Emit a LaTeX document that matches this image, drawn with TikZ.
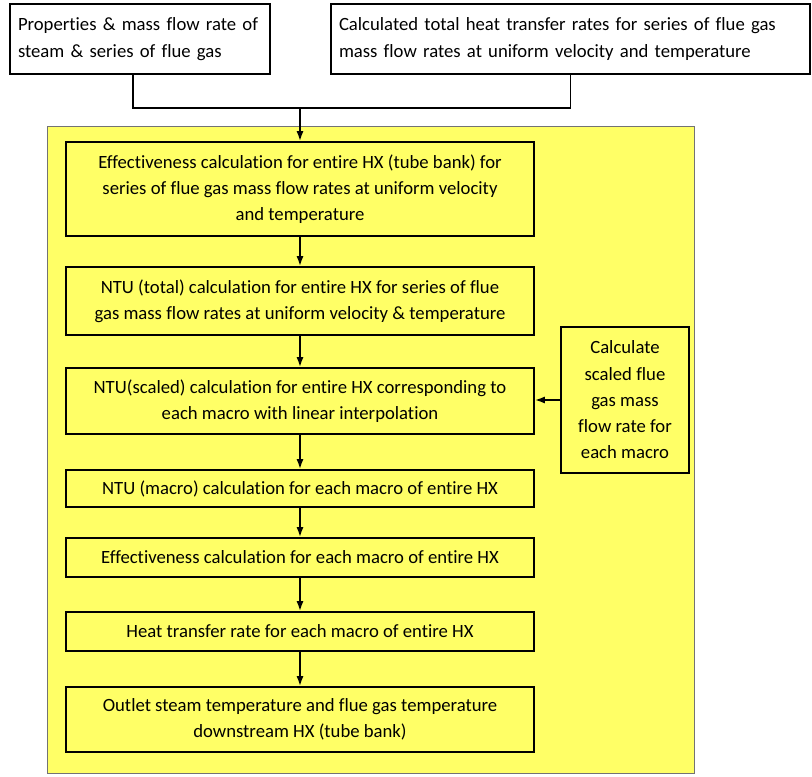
\documentclass[tikz,border=0pt]{standalone}
\usepackage{fontspec}
\setmainfont{Carlito}[Ligatures={NoCommon}]
\usetikzlibrary{arrows.meta}
\definecolor{hxyellow}{RGB}{255,255,102}
\begin{document}
\begin{tikzpicture}[every node/.style={font=\fontsize{13.3}{18.7}\selectfont},
    inbox/.style={draw, line width=1.4pt, align=left, text width=#1, inner xsep=0.2cm},
    stepbox/.style={draw, line width=1.4pt, fill=hxyellow, align=center, minimum width=11.7cm},
    flow/.style={-{Latex[length=7pt,width=5pt]}, line width=1.1pt}]
    \useasboundingbox (0,0) rectangle (20.3,19.4);
    \node[draw=black!55, line width=0.6pt, fill=hxyellow, minimum width=16.175cm, minimum height=16.175cm] (hx) at (9.2625,8.1625) {};

    \node[inbox=6.1cm, minimum height=1.75cm] (props) at (3.5,18.425) {Properties \& mass flow rate of\\steam \& series of flue gas};
    \node[inbox=11.575cm, minimum height=1.75cm] (calc) at (14.2625,18.425) {Calculated total heat transfer rates for series of flue gas\\mass flow rates at uniform velocity and temperature};

    \node[stepbox, minimum height=2.35cm] (eff) at (7.5,14.675) {Effectiveness calculation for entire HX (tube bank) for\\series of flue gas mass flow rates at uniform velocity\\and temperature};
    \node[stepbox, minimum height=1.7cm] (ntut) at (7.5,11.875) {NTU (total) calculation for entire HX for series of flue\\gas mass flow rates at uniform velocity \& temperature};
    \node[stepbox, minimum height=1.65cm] (ntus) at (7.5,9.375) {NTU(scaled) calculation for entire HX corresponding to\\each macro with linear interpolation};
    \node[stepbox, minimum height=0.925cm] (ntum) at (7.5,7.1875) {NTU (macro) calculation for each macro of entire HX};
    \node[stepbox, minimum height=0.975cm] (effm) at (7.5,5.4625) {Effectiveness calculation for each macro of entire HX};
    \node[stepbox, minimum height=0.975cm] (heat) at (7.5,3.6125) {Heat transfer rate for each  macro of entire HX};
    \node[stepbox, minimum height=1.625cm] (outlet) at (7.5,1.4125) {Outlet steam temperature and flue gas temperature\\downstream HX (tube bank)};

    \node[stepbox, minimum width=3.2cm, minimum height=3.65cm] (scale) at (15.625,9.4) {Calculate\\scaled flue\\gas mass\\flow rate for\\each macro};

    \coordinate (join) at (7.5,16.7);
    \draw[line width=1.1pt] ([xshift=-0.175cm]props.south) |- (join) -| (calc.south);
    \draw[flow] (join) -- (eff.north);
    \draw[flow] (eff) -- (ntut);
    \draw[flow] (ntut) -- (ntus);
    \draw[flow] (ntus) -- (ntum);
    \draw[flow] (ntum) -- (effm);
    \draw[flow] (effm) -- (heat);
    \draw[flow] (heat) -- (outlet);
    \draw[flow] (scale.west) -- (scale.west -| ntus.east);
\end{tikzpicture}
\end{document}
